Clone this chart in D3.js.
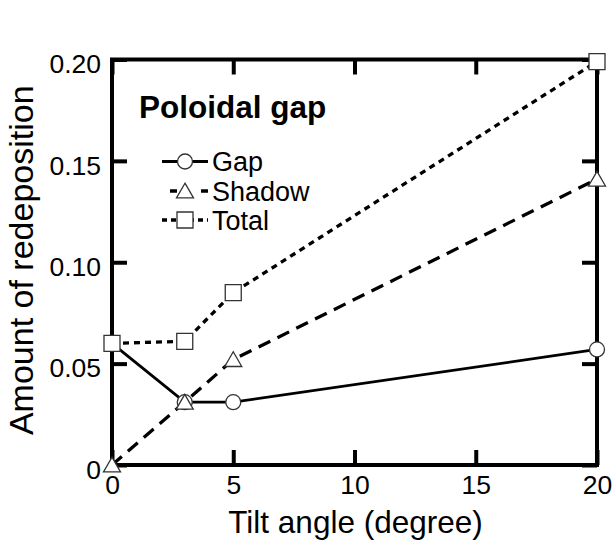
<!DOCTYPE html>
<html>
<head>
<meta charset="utf-8">
<script src="https://cdn.jsdelivr.net/npm/d3@7"></script>
<style>
  body { margin: 0; background: #fff; }
  text { font-family: "Liberation Sans", Arial, sans-serif; fill: #000; }
</style>
</head>
<body>
<div id="plot"></div>
<script>
// data
var tilt = [0, 3, 5, 20];
var gap = [0.060, 0.031, 0.031, 0.057];
var shadow = [0, 0.031, 0.052, 0.141];
var total = [0.060, 0.061, 0.085, 0.199];
var xTicks = [0, 5, 10, 15, 20];
var yTicks = [0, 0.05, 0.10, 0.15, 0.20];
var yTickLabels = ["0", "0.05", "0.10", "0.15", "0.20"];

var W = 613, H = 544;
var margin = {top: 59.5, right: 16, bottom: 79, left: 112};
var width = W - margin.left - margin.right;
var height = H - margin.top - margin.bottom;

var svg = d3.select("div#plot").append("svg")
    .attr("width", W)
    .attr("height", H);
var g = svg.append("g")
    .attr("transform", "translate(" + margin.left + "," + margin.top + ")");

var x = d3.scaleLinear().domain([0, 20]).range([0, width]);
var y = d3.scaleLinear().domain([0, 0.20]).range([height, 0]);

// ticks point inward on all four sides
var tickLen = 15;
var axB = g.append("g").attr("transform", "translate(0," + height + ")")
    .call(d3.axisBottom(x).tickValues(xTicks).tickSizeInner(-tickLen).tickSizeOuter(0).tickPadding(11));
var axT = g.append("g")
    .call(d3.axisTop(x).tickValues(xTicks).tickSizeInner(-tickLen).tickSizeOuter(0).tickFormat(""));
var axL = g.append("g")
    .call(d3.axisLeft(y).tickValues(yTicks).tickSizeInner(-tickLen).tickSizeOuter(0).tickPadding(11)
      .tickFormat(function(d, i) { return yTickLabels[i]; }));
var axR = g.append("g").attr("transform", "translate(" + width + ",0)")
    .call(d3.axisRight(y).tickValues(yTicks).tickSizeInner(-tickLen).tickSizeOuter(0).tickFormat(""));

[axB, axT, axL, axR].forEach(function(a) {
  a.select(".domain").remove();
  a.selectAll(".tick line").attr("stroke", "#000").attr("stroke-width", 4);
  a.selectAll(".tick text").style("font-size", "26.5px").attr("fill", "#000");
});
axL.selectAll(".tick text").attr("dy", "0.5em");
axB.selectAll(".tick text").attr("dy", "0.68em");

g.append("rect")
    .attr("width", width).attr("height", height)
    .attr("fill", "none").attr("stroke", "#000").attr("stroke-width", 4);

// series
var series = [
  {name: "Gap", vals: gap, dash: null, width: 2.8, mark: "circle"},
  {name: "Shadow", vals: shadow, dash: "13,8", width: 3.3, mark: "triangle"},
  {name: "Total", vals: total, dash: "6,5", width: 3.3, mark: "square"}
];

var line = d3.line().x(function(d) { return x(d[0]); }).y(function(d) { return y(d[1]); });

series.forEach(function(s) {
  var pts = tilt.map(function(t, i) { return [t, s.vals[i]]; });
  g.append("path")
      .datum(pts)
      .attr("d", line)
      .attr("fill", "none")
      .attr("stroke", "#000")
      .attr("stroke-width", s.width)
      .attr("stroke-dasharray", s.dash);
});

var symbols = {
  circle: d3.symbol().type(d3.symbolCircle).size(Math.PI * 7.5 * 7.5),
  triangle: d3.symbol().type(d3.symbolTriangle).size(125),
  square: d3.symbol().type(d3.symbolSquare).size(16 * 16)
};

function drawMark(sel, kind, cx, cy) {
  var dy = kind === "triangle" ? 2 : 0;
  sel.append("path")
      .attr("d", symbols[kind]())
      .attr("transform", "translate(" + cx + "," + (cy + dy) + ")")
      .attr("fill", "#fff")
      .attr("stroke", "#333")
      .attr("stroke-width", 1.3);
}

series.forEach(function(s) {
  tilt.forEach(function(t, i) {
    drawMark(g, s.mark, x(t), y(s.vals[i]));
  });
});

// legend
svg.append("text")
    .attr("x", 139).attr("y", 118)
    .style("font-size", "31.5px").style("font-weight", "bold")
    .text("Poloidal gap");

var legendRows = [161.5, 191, 220];
var legend = svg.selectAll(".legend")
    .data(series)
    .enter().append("g")
    .attr("class", "legend")
    .attr("transform", function(d, i) { return "translate(0," + legendRows[i] + ")"; });

legend.append("line")
    .attr("x1", function(d) { return d.mark === "triangle" ? 170 : 162; })
    .attr("x2", 208)
    .attr("stroke", "#000")
    .attr("stroke-width", function(d) { return d.width; })
    .attr("stroke-dasharray", function(d) { return d.mark === "square" ? "5,4" : (d.mark === "triangle" ? "7,24" : null); });

legend.each(function(d) { drawMark(d3.select(this), d.mark, 185, 0); });

legend.append("text")
    .attr("x", 212)
    .attr("dy", "0.36em")
    .style("font-size", "27px")
    .text(function(d) { return d.name; });

// axis titles
svg.append("text")
    .attr("x", margin.left + width / 2 + 1).attr("y", 533)
    .attr("text-anchor", "middle")
    .style("font-size", "31.5px")
    .text("Tilt angle (degree)");

svg.append("text")
    .attr("transform", "translate(33," + (margin.top + height / 2 - 2) + ") rotate(-90)")
    .attr("text-anchor", "middle")
    .style("font-size", "34px")
    .text("Amount of redeposition");
</script>
</body>
</html>
